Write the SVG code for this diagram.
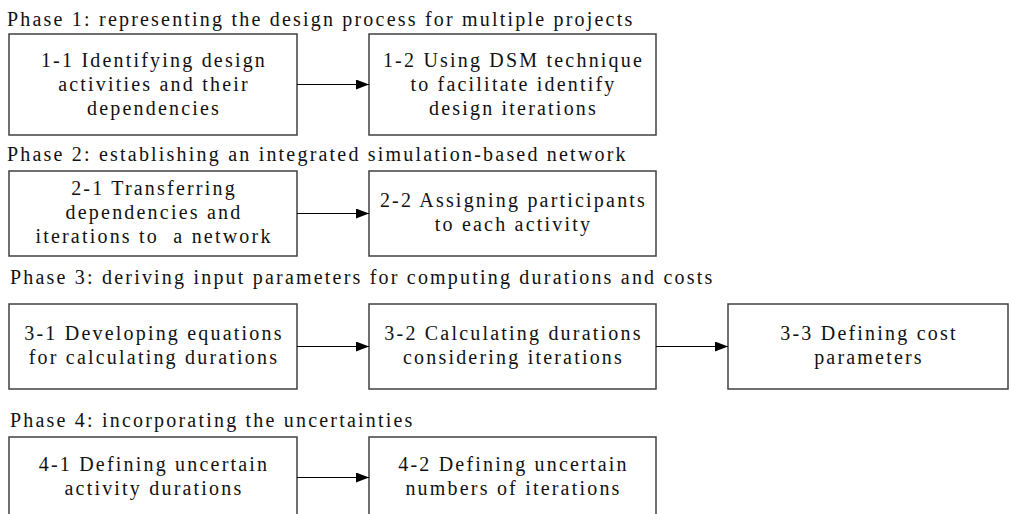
<svg xmlns="http://www.w3.org/2000/svg" width="1009" height="514" viewBox="0 0 1009 514">
<style>
.bg{fill:#ffffff}
.box{fill:#ffffff;stroke:#404040;stroke-width:1.5}
.t{font-family:"Liberation Serif","Times New Roman",serif;font-size:20px;letter-spacing:2.2px;fill:#111;text-anchor:middle}
.p{font-family:"Liberation Serif","Times New Roman",serif;font-size:20px;letter-spacing:2.2px;fill:#111}
.c{stroke:#000;stroke-width:1;fill:none}
</style>
<defs>
<marker id="ah" viewBox="0 0 13 10" refX="13" refY="5" markerWidth="13" markerHeight="10" markerUnits="userSpaceOnUse" orient="auto">
<path d="M0,0 L13,5 L0,10 z" fill="#000"/>
</marker>
</defs>
<rect class="bg" x="0" y="0" width="1009" height="514"/>

<g id="phase-labels">
<text class="p" x="7" y="26">Phase 1: representing the design process for multiple projects</text>
<text class="p" x="7" y="161">Phase 2: establishing an integrated simulation-based network</text>
<text class="p" x="10" y="284">Phase 3: deriving input parameters for computing durations and costs</text>
<text class="p" x="10" y="427">Phase 4: incorporating the uncertainties</text>
</g>

<g id="n1-1">
<rect class="box" x="9" y="34" width="288" height="101"/>
<text class="t" x="154" y="67">1-1 Identifying design</text>
<text class="t" x="154" y="91">activities and their</text>
<text class="t" x="154" y="115">dependencies</text>
</g>
<g id="n1-2">
<rect class="box" x="369" y="34" width="287" height="101"/>
<text class="t" x="513.5" y="67">1-2 Using DSM technique</text>
<text class="t" x="513.5" y="91">to facilitate identify</text>
<text class="t" x="513.5" y="115">design iterations</text>
</g>

<g id="n2-1">
<rect class="box" x="9" y="171" width="288" height="85"/>
<text class="t" x="154" y="195">2-1 Transferring</text>
<text class="t" x="154" y="219">dependencies and</text>
<text class="t" x="154" y="243" xml:space="preserve">iterations to  a network</text>
</g>
<g id="n2-2">
<rect class="box" x="369" y="171" width="287" height="85"/>
<text class="t" x="513.5" y="207">2-2 Assigning participants</text>
<text class="t" x="513.5" y="231">to each activity</text>
</g>

<g id="n3-1">
<rect class="box" x="9" y="304" width="288" height="85"/>
<text class="t" x="154" y="340">3-1 Developing equations</text>
<text class="t" x="154" y="364">for calculating durations</text>
</g>
<g id="n3-2">
<rect class="box" x="369" y="304" width="287" height="85"/>
<text class="t" x="513.5" y="340">3-2 Calculating durations</text>
<text class="t" x="513.5" y="364">considering iterations</text>
</g>
<g id="n3-3">
<rect class="box" x="728" y="304" width="280" height="85"/>
<text class="t" x="869" y="340">3-3 Defining cost</text>
<text class="t" x="869" y="364">parameters</text>
</g>

<g id="n4-1">
<rect class="box" x="9" y="437" width="288" height="90"/>
<text class="t" x="154" y="471">4-1 Defining uncertain</text>
<text class="t" x="154" y="495">activity durations</text>
</g>
<g id="n4-2">
<rect class="box" x="369" y="437" width="287" height="90"/>
<text class="t" x="513.5" y="471">4-2 Defining uncertain</text>
<text class="t" x="513.5" y="495">numbers of iterations</text>
</g>

<g id="connectors">
<line class="c" x1="297" y1="84.5" x2="369" y2="84.5" marker-end="url(#ah)"/>
<line class="c" x1="297" y1="213.5" x2="369" y2="213.5" marker-end="url(#ah)"/>
<line class="c" x1="297" y1="346.5" x2="369" y2="346.5" marker-end="url(#ah)"/>
<line class="c" x1="656" y1="346.5" x2="728" y2="346.5" marker-end="url(#ah)"/>
<line class="c" x1="297" y1="477.5" x2="369" y2="477.5" marker-end="url(#ah)"/>
</g>
</svg>
